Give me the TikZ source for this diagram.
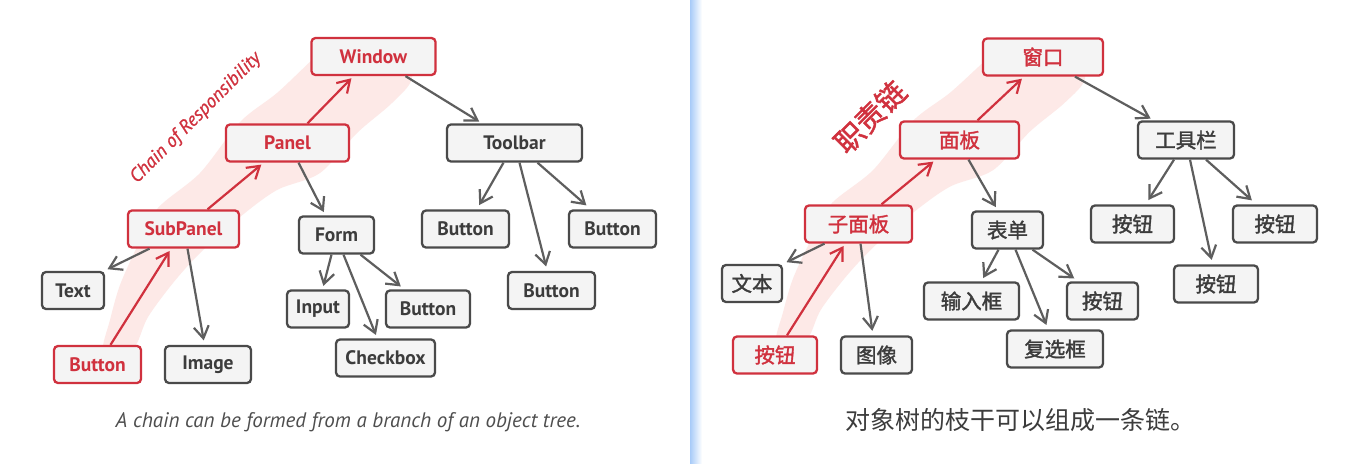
\documentclass[tikz,border=0pt]{standalone}
\usepackage{fontspec}
\setmainfont{PT Sans}
\newfontfamily\cjk{Noto Sans CJK SC}
\newfontfamily\cjkm{Noto Sans CJK SC}[FakeBold=1.6]
\newfontfamily\lblfont{PT Sans Italic}[FakeBold=0.8]
\usetikzlibrary{arrows.meta}
\definecolor{myred}{HTML}{D0313E}
\definecolor{boxgray}{HTML}{4A4A4A}
\definecolor{boxfill}{HTML}{F4F4F4}
\definecolor{txtgray}{HTML}{3C3C3C}
\definecolor{arrgray}{HTML}{5E5E5E}
\definecolor{bandpink}{HTML}{FDE9E7}
\definecolor{divblue}{HTML}{A8CBF8}
\definecolor{captgray}{HTML}{4E4E4E}
\tikzset{
  box/.style={draw=boxgray, fill=boxfill, rounded corners=4pt, line width=2.3pt,
    minimum height=37pt, inner sep=0pt, text=txtgray,
    font=\bfseries\fontsize{19.5}{19.5}\selectfont},
  redbox/.style={box, draw=myred, text=myred},
  cbox/.style={box, font=\cjkm\fontsize{20.5}{20.5}\selectfont},
  credbox/.style={cbox, draw=myred, text=myred},
  garrow/.style={draw=arrgray, line width=2.2pt, shorten >=1.5pt,
    -{Straight Barb[length=12pt,width=15pt,line width=2.2pt]}},
  rarrow/.style={garrow, draw=myred},
}
\begin{document}
\begin{tikzpicture}[x=1pt,y=-1pt]
\useasboundingbox (0,0) rectangle (1359,463);
\fill[white] (0,0) rectangle (1359,463);
\shade[left color=divblue, right color=white] (690,0) rectangle (702,463);

% ---------- left panel ----------
\fill[bandpink] plot[smooth cycle, tension=0.5] coordinates {
  (103,352) (110,320) (120,285) (138,245) (158,208) (200,173) (240,122)
  (277,93) (312,60) (330,45) (400,45) (412,78) (392,103) (357,133)
  (320,173) (277,190) (240,217) (200,253) (173,283) (148,317) (137,343) (125,356)};

\node[redbox, minimum width=124pt] (window) at (373.5,56.5) {Window};
\node[redbox, minimum width=123pt] (panel) at (287.5,143) {Panel};
\node[box, minimum width=135pt] (toolbar) at (514.5,143) {Toolbar};
\node[redbox, minimum width=111pt] (subpanel) at (183.5,229) {SubPanel};
\node[box, minimum width=75pt] (form) at (336.5,235) {Form};
\node[box, minimum width=87pt] (tbL) at (465.5,229) {Button};
\node[box, minimum width=87pt] (tbR) at (612.5,229) {Button};
\node[box, minimum width=87pt] (tbM) at (551.5,290.5) {Button};
\node[box, minimum width=62pt] (text) at (73,290.5) {Text};
\node[box, minimum width=62pt] (input) at (318,309) {Input};
\node[box, minimum width=84pt] (fbtn) at (428,309) {Button};
\node[box, minimum width=99pt] (checkbox) at (385.5,358) {Checkbox};
\node[redbox, minimum width=87pt] (rbtn) at (97.5,364.5) {Button};
\node[box, minimum width=86pt] (image) at (208,364.5) {Image};

\node[text=myred, rotate=45, font=\lblfont\fontsize{19}{19}\selectfont] (chainlbl) at (196,118) {Chain of Responsibility};

\draw[garrow] ([xshift=32pt]window.south) -- ([xshift=-34pt,yshift=1pt]toolbar.north);
\draw[garrow] ([xshift=11pt]panel.south) -- ([xshift=-12pt,yshift=2pt]form.north);
\draw[garrow] ([xshift=-34pt]subpanel.south) -- ([xshift=1pt,yshift=1pt]text.north east);
\draw[garrow] ([xshift=4pt]subpanel.south) -- ([xshift=-4pt,yshift=3pt]image.north);
\draw[rarrow] ([xshift=13pt]rbtn.north) -- ([xshift=-13pt,yshift=-1pt]subpanel.south);
\draw[rarrow] ([xshift=24pt]subpanel.north) -- ([xshift=-25pt,yshift=-1pt]panel.south);
\draw[rarrow] ([xshift=20pt]panel.north) -- ([xshift=-21pt,yshift=-1pt]window.south);
\draw[garrow] ([xshift=-5pt]form.south) -- ([xshift=5pt,yshift=2pt]input.north);
\draw[garrow] ([xshift=7pt]form.south) -- ([xshift=-9pt,yshift=2pt]checkbox.north);
\draw[garrow] ([xshift=24pt]form.south) -- ([xshift=-26pt,yshift=2pt]fbtn.north);
\draw[garrow] ([xshift=-11pt]toolbar.south) -- ([xshift=13pt,yshift=3pt]tbL.north);
\draw[garrow] ([xshift=5pt]toolbar.south) -- ([xshift=-5pt,yshift=3pt]tbM.north);
\draw[garrow] ([xshift=23pt]toolbar.south) -- ([xshift=-25pt,yshift=3pt]tbR.north);

\node[text=captgray, font=\itshape\fontsize{21}{21}\selectfont] (captL) at (348,422) {A chain can be formed from a branch of an object tree.};

% ---------- right panel ----------
\begin{scope}[shift={(673,2.8)}, yscale=0.9675]
\fill[bandpink] plot[smooth cycle, tension=0.5] coordinates {
  (103,352) (110,320) (120,285) (138,245) (158,208) (200,173) (240,122)
  (277,93) (312,60) (330,45) (400,45) (412,78) (392,103) (357,133)
  (320,173) (277,190) (240,217) (200,253) (173,283) (148,317) (137,343) (125,356)};
\end{scope}

\node[credbox, minimum width=120pt] (chuang) at (1043,57) {窗口};
\node[credbox, minimum width=119pt] (mianban) at (959.5,140) {面板};
\node[cbox, minimum width=96pt] (gongju) at (1186,140) {工具栏};
\node[credbox, minimum width=107pt] (zimian) at (858.5,224) {子面板};
\node[cbox, minimum width=71pt] (biaodan) at (1007.5,230) {表单};
\node[cbox, minimum width=83pt] (anL) at (1132.5,224) {按钮};
\node[cbox, minimum width=84pt] (anR) at (1275,224) {按钮};
\node[cbox, minimum width=84pt] (anM) at (1216,284) {按钮};
\node[cbox, minimum width=60pt] (wenben) at (752,283.5) {文本};
\node[cbox, minimum width=95pt] (shuru) at (971.5,301) {输入框};
\node[cbox, minimum width=71pt] (anF) at (1102.5,301) {按钮};
\node[cbox, minimum width=96pt] (fuxuan) at (1055,349) {复选框};
\node[credbox, minimum width=84pt] (anRed) at (775,355) {按钮};
\node[cbox, minimum width=71pt] (tuxiang) at (876.5,355) {图像};

\node[text=myred, rotate=45, font=\cjkm\fontsize{29}{29}\selectfont] (zelbl) at (870,117) {职责链};

\draw[garrow] ([xshift=32pt]chuang.south) -- ([xshift=-34pt,yshift=1pt]gongju.north);
\draw[rarrow] ([xshift=18pt]mianban.north) -- ([xshift=-20pt,yshift=-1pt]chuang.south);
\draw[garrow] ([xshift=9pt]mianban.south) -- ([xshift=-11pt,yshift=2pt]biaodan.north);
\draw[rarrow] ([xshift=23pt]zimian.north) -- ([xshift=-25pt,yshift=-1pt]mianban.south);
\draw[garrow] ([xshift=-34pt]zimian.south) -- ([xshift=2pt,yshift=1pt]wenben.north east);
\draw[garrow] ([xshift=2pt]zimian.south) -- ([xshift=-4pt,yshift=3pt]tuxiang.north);
\draw[rarrow] ([xshift=12pt]anRed.north) -- ([xshift=-14pt,yshift=-1pt]zimian.south);
\draw[garrow] ([xshift=-9pt]biaodan.south) -- ([xshift=11pt,yshift=2pt]shuru.north);
\draw[garrow] ([xshift=8pt]biaodan.south) -- ([xshift=-8pt,yshift=3pt]fuxuan.north);
\draw[garrow] ([xshift=25pt]biaodan.south) -- ([xshift=-27pt,yshift=2pt]anF.north);
\draw[garrow] ([xshift=-12pt]gongju.south) -- ([xshift=15pt,yshift=3pt]anL.north);
\draw[garrow] ([xshift=4pt]gongju.south) -- ([xshift=-4pt,yshift=3pt]anM.north);
\draw[garrow] ([xshift=20pt]gongju.south) -- ([xshift=-22pt,yshift=3pt]anR.north);

\node[text=txtgray, font=\cjk\fontsize{25}{25}\selectfont] (captR) at (1020,420) {对象树的枝干可以组成一条链。};
\end{tikzpicture}
\end{document}
